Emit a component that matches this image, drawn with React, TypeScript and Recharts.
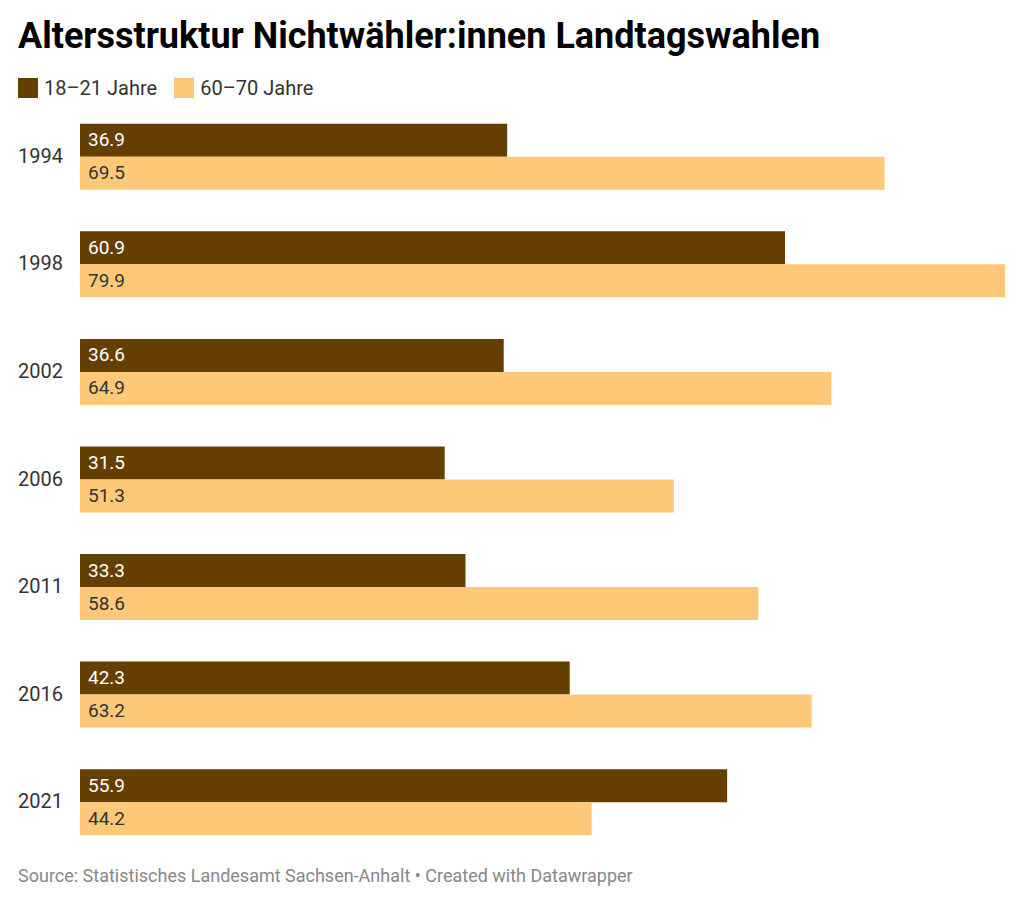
import React from "react";
import { BarChart, Bar, XAxis, YAxis, LabelList } from "recharts";

const years = ["1994", "1998", "2002", "2006", "2011", "2016", "2021"];
const young = [36.9, 60.9, 36.6, 31.5, 33.3, 42.3, 55.9];
const old = [69.5, 79.9, 64.9, 51.3, 58.6, 63.2, 44.2];
const data = years.map((y, i) => ({ year: y, young: young[i], old: old[i] }));

const DARK = "#653f00";
const LIGHT = "#fdc979";
const font = "Roboto, sans-serif";

const YTick = (p: any) => (
  <text x={18} y={p.y} dy={6} fontSize={20} fill="#333" fontFamily={font}>
    {p.payload.value}
  </text>
);

const mkLabel = (color: string) => (p: any) => (
  <text x={p.x + 8} y={p.y + p.height / 2} dy={6} fontSize={19} fill={color} fontFamily={font}>
    {p.value.toFixed(1)}
  </text>
);

export default function App() {
  return (
    <div style={{ position: "relative", width: 1024, height: 905, margin: -8, background: "#fff", fontFamily: font }}>
      <div style={{ position: "absolute", left: 18, top: 15, fontSize: 36, fontWeight: 700, color: "#000" }}>
        Altersstruktur Nichtwähler:innen Landtagswahlen
      </div>
      <div style={{ position: "absolute", left: 18, top: 76, display: "flex", alignItems: "center", fontSize: 20, color: "#333" }}>
        <span style={{ width: 20, height: 20, background: DARK, display: "inline-block", marginRight: 6 }} />
        <span style={{ marginRight: 17 }}>18–21 Jahre</span>
        <span style={{ width: 20, height: 20, background: LIGHT, display: "inline-block", marginRight: 6 }} />
        <span>60–70 Jahre</span>
      </div>
      <div style={{ position: "absolute", left: 18, top: 865, fontSize: 18, color: "#888" }}>
        Source: Statistisches Landesamt Sachsen-Anhalt • Created with Datawrapper
      </div>
      <div style={{ position: "absolute", left: 0, top: 0 }}>
        <BarChart width={1024} height={905} data={data} layout="vertical"
          margin={{ top: 103, bottom: 49, left: 0, right: 19 }} barCategoryGap={20.75} barGap={0}>
          <XAxis type="number" domain={[0, 79.9]} hide />
          <YAxis type="category" dataKey="year" width={80} axisLine={false} tickLine={false} tick={<YTick />} />
          <Bar dataKey="young" fill={DARK} isAnimationActive={false}>
            <LabelList dataKey="young" content={mkLabel("#fff")} />
          </Bar>
          <Bar dataKey="old" fill={LIGHT} isAnimationActive={false}>
            <LabelList dataKey="old" content={mkLabel("#333")} />
          </Bar>
        </BarChart>
      </div>
    </div>
  );
}
